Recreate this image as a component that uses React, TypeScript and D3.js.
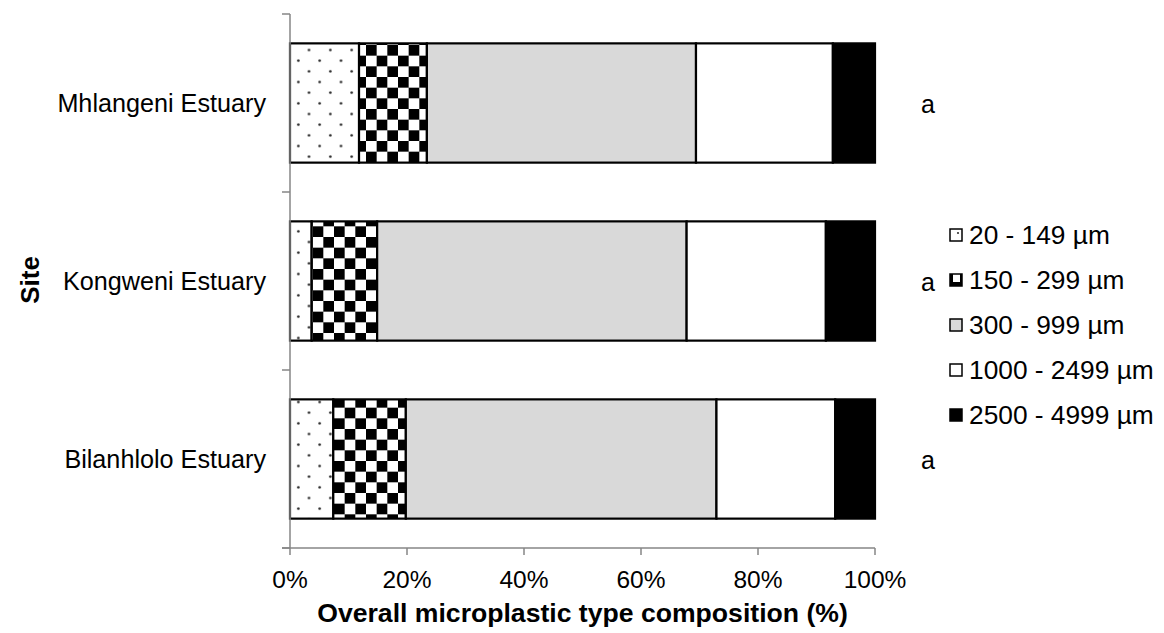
import React from "react";
import * as d3 from "d3";

const sites = ["Mhlangeni Estuary", "Kongweni Estuary", "Bilanhlolo Estuary"];
const sizeClasses = ["20 - 149 µm", "150 - 299 µm", "300 - 999 µm", "1000 - 2499 µm", "2500 - 4999 µm"];
const s20_149 = [11.8, 3.7, 7.4];
const s150_299 = [11.6, 11.2, 12.4];
const s300_999 = [46.0, 52.9, 53.1];
const s1000_2499 = [23.4, 23.8, 20.3];
const s2500_4999 = [7.2, 8.4, 6.8];
const letters = ["a", "a", "a"];
const xTicks = [0, 20, 40, 60, 80, 100];

const seriesValues = [s20_149, s150_299, s300_999, s1000_2499, s2500_4999];
const fills = ["url(#dots)", "url(#checker)", "#d9d9d9", "#ffffff", "#000000"];

const FONT = "'Liberation Sans', Arial, sans-serif";

export default function App() {
  const W = 1164, H = 633;
  const x = d3.scaleLinear().domain([0, 100]).range([290, 875]);
  const y = d3.scaleBand<string>().domain(sites).range([14, 548]).paddingInner(0.33).paddingOuter(0.165);
  const step = y.step();

  const rows = sites.map((s, i) => {
    const r: any = { site: s };
    sizeClasses.forEach((c, j) => (r[c] = seriesValues[j][i]));
    return r;
  });
  const stacked = d3.stack<any>().keys(sizeClasses)(rows);

  const axisColor = "#868686";
  const tile = 21.333;
  const half = tile / 2;

  return (
    <svg width={W} height={H} style={{ position: "absolute", left: 0, top: 0, background: "#fff" }} fontFamily={FONT}>
      <defs>
        <pattern id="dots" patternUnits="userSpaceOnUse" x={303.67} y={44.67} width={tile} height={tile}>
          <rect width={tile} height={tile} fill="#fff" />
          <circle cx={5.33} cy={5.33} r={1.3} fill="#222" />
          <circle cx={16} cy={16} r={1.3} fill="#222" />
        </pattern>
        <pattern id="checker" patternUnits="userSpaceOnUse" x={3.33} y={2.33} width={tile} height={tile}>
          <rect width={tile} height={tile} fill="#fff" />
          <rect x={0} y={0} width={half} height={half} fill="#000" />
          <rect x={half} y={half} width={half} height={half} fill="#000" />
        </pattern>
        <pattern id="dotsLeg" patternUnits="userSpaceOnUse" x={950} y={229} width={12} height={12}>
          <rect width={12} height={12} fill="#fff" />
          <circle cx={8} cy={4} r={1.1} fill="#333" />
        </pattern>
        <pattern id="checkLeg" patternUnits="userSpaceOnUse" x={950} y={274} width={12} height={12}>
          <rect width={12} height={12} fill="#fff" />
          <rect x={0} y={0} width={12} height={12} fill="#000" />
          <rect x={3} y={0} width={7} height={8} fill="#fff" />
        </pattern>
      </defs>

      {/* bars */}
      {stacked.map((layer, j) => (
        <g key={layer.key}>
          {layer.map((d, i) => (
            <rect
              key={i}
              x={x(d[0])}
              y={y(sites[i])}
              width={x(d[1]) - x(d[0])}
              height={y.bandwidth()}
              fill={fills[j]}
              stroke="#000"
              strokeWidth={2.2}
            />
          ))}
        </g>
      ))}

      {/* y axis */}
      <line x1={290} x2={290} y1={14} y2={548} stroke={axisColor} strokeWidth={1.5} />
      {[0, 1, 2, 3].map((k) => (
        <line key={k} x1={282} x2={290} y1={14 + k * step} y2={14 + k * step} stroke={axisColor} strokeWidth={1.5} />
      ))}
      {/* x axis */}
      <line x1={282} x2={x(100)} y1={548} y2={548} stroke={axisColor} strokeWidth={1.5} />
      {xTicks.map((t) => (
        <g key={t}>
          <line x1={x(t)} x2={x(t)} y1={548} y2={555} stroke={axisColor} strokeWidth={1.5} />
          <text x={x(t)} y={588} textAnchor="middle" fontSize={24.5} fill="#000">
            {t + "%"}
          </text>
        </g>
      ))}

      {/* category labels */}
      {sites.map((s) => (
        <text key={s} x={266} y={(y(s) as number) + y.bandwidth() / 2} dy="0.35em" textAnchor="end" fontSize={25.2} fill="#000">
          {s}
        </text>
      ))}

      {/* significance letters */}
      {sites.map((s, i) => (
        <text key={s + "l"} x={921} y={(y(s) as number) + y.bandwidth() / 2 + 10} fontSize={25} fill="#000">
          {letters[i]}
        </text>
      ))}

      {/* axis titles */}
      <text x={(x(0) + x(100)) / 2} y={622} textAnchor="middle" fontSize={26.6} fontWeight="bold" fill="#000">
        Overall microplastic type composition (%)
      </text>
      <text transform="translate(30,280) rotate(-90)" dy="0.35em" textAnchor="middle" fontSize={26} fontWeight="bold" fill="#000">
        Site
      </text>

      {/* legend */}
      {sizeClasses.map((c, j) => {
        const cy = 235 + j * 45;
        const legFill = j === 0 ? "url(#dotsLeg)" : j === 1 ? "url(#checkLeg)" : fills[j];
        return (
          <g key={c}>
            <rect x={950} y={cy - 6} width={12} height={12} fill={legFill} stroke="#000" strokeWidth={1.5} />
            <text x={969} y={cy} dy="0.35em" fontSize={26.3} fill="#000">
              {c}
            </text>
          </g>
        );
      })}
    </svg>
  );
}
